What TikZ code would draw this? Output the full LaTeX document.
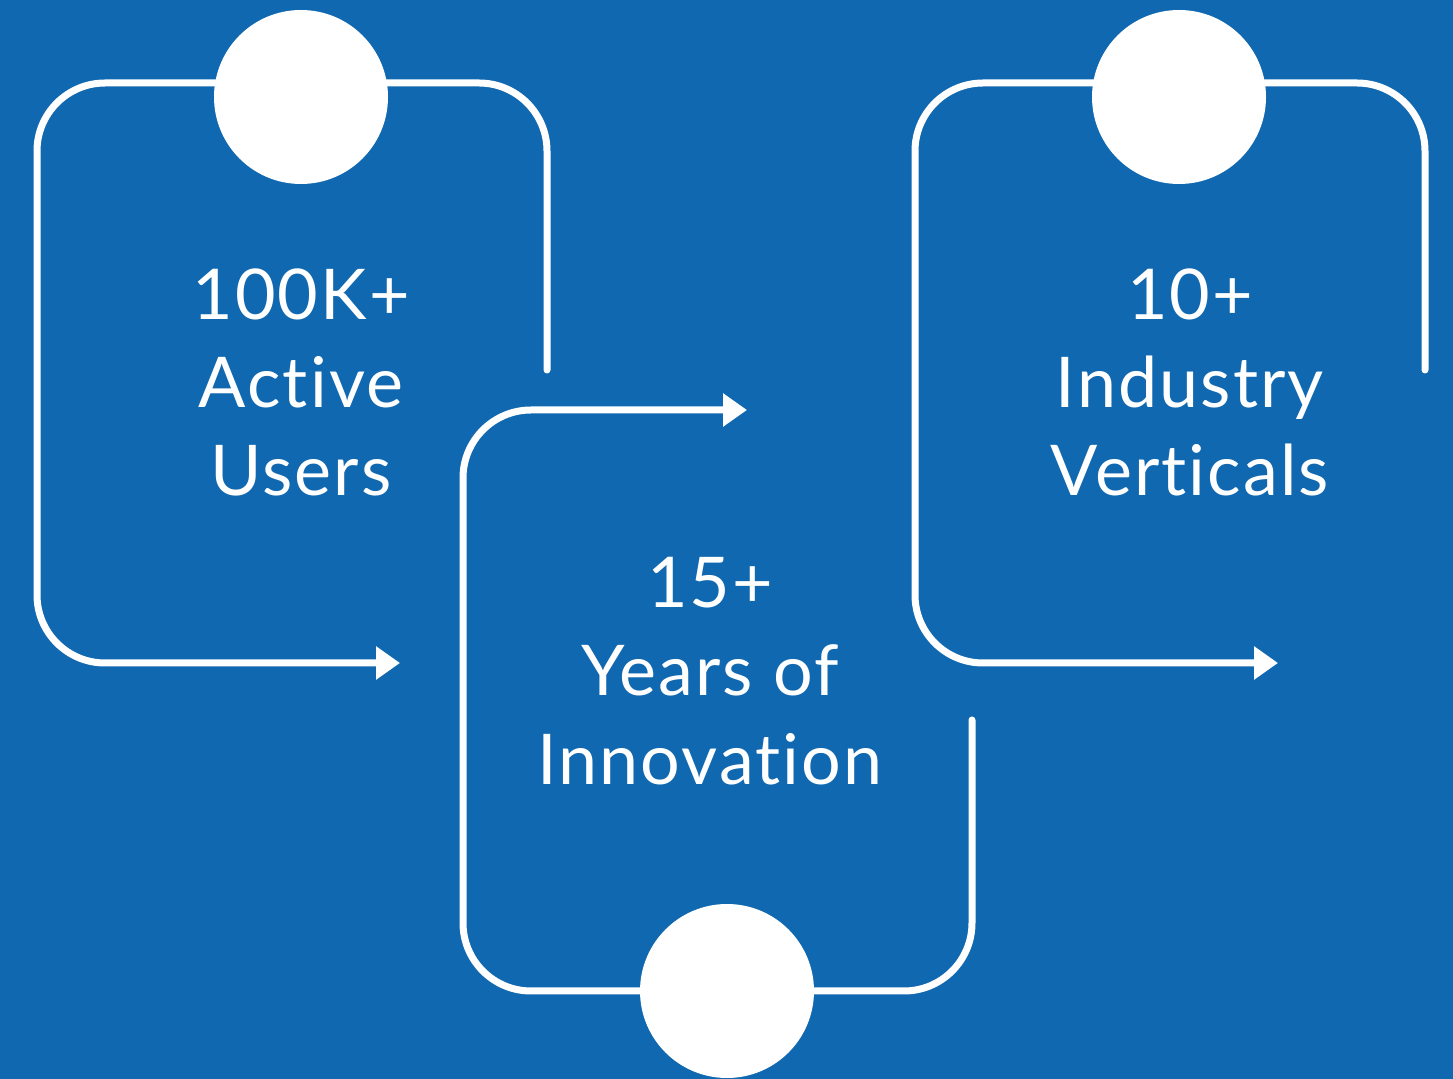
\documentclass[tikz,border=0pt]{standalone}
\usepackage{fontspec}
\setmainfont{Lato}[Ligatures=CommonOff, LetterSpace=3]
\usetikzlibrary{arrows.meta}
\definecolor{bgblue}{RGB}{16,104,176}
\tikzset{
  flow/.style={draw=white, line width=3.5pt, rounded corners=34pt, line cap=round,
    -{Triangle[length=12pt,width=16pt]}},
  dot/.style={circle, fill=white, draw=none, minimum size=87pt, inner sep=0pt},
  stat/.style={text=white, anchor=base, inner sep=0pt, font=\fontsize{35}{42}\selectfont}
}
\begin{document}
\begin{tikzpicture}[x=0.5pt, y=-0.5pt]
\fill[bgblue] (0,0) rectangle (1453,1079);
\useasboundingbox (0,0) rectangle (1453,1079);
% path anchor coordinates
\coordinate (a0) at (547,370);
\coordinate (a1) at (547,83);
\coordinate (a2) at (37,83);
\coordinate (a3) at (37,663);
\coordinate (a4) at (400,663);
\coordinate (b0) at (972,720);
\coordinate (b1) at (972,991);
\coordinate (b2) at (463,991);
\coordinate (b3) at (463,410);
\coordinate (b4) at (747,410);
\coordinate (c0) at (1425,370);
\coordinate (c1) at (1425,83);
\coordinate (c2) at (915,83);
\coordinate (c3) at (915,663);
\coordinate (c4) at (1278,663);
\draw[flow] (a0) -- (a1) -- (a2) -- (a3) -- (a4);
\draw[flow] (b0) -- (b1) -- (b2) -- (b3) -- (b4);
\draw[flow] (c0) -- (c1) -- (c2) -- (c3) -- (c4);
\node[dot] (d1) at (301,97) {};
\node[dot] (d2) at (727,991) {};
\node[dot] (d3) at (1179,97) {};
% texts
\node[stat] (t11) at (301,320) {100K+};
\node[stat] (t12) at (301,408) {Active};
\node[stat] (t13) at (301,496) {Users};
\node[stat] (t21) at (710,608) {15+};
\node[stat] (t22) at (710,696) {Years of};
\node[stat] (t23) at (710,785) {Innovation};
\node[stat] (t31) at (1190,320) {10+};
\node[stat] (t32) at (1190,408) {Industry};
\node[stat] (t33) at (1190,496) {Verticals};
\end{tikzpicture}
\end{document}
